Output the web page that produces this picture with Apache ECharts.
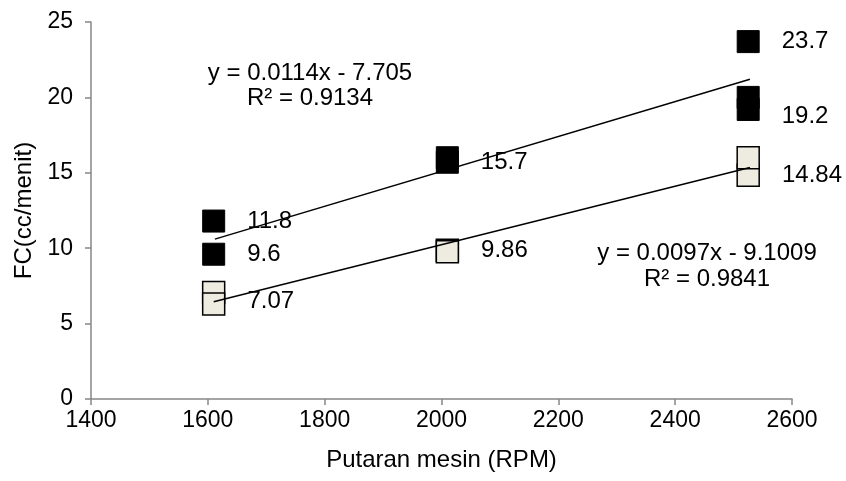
<!DOCTYPE html>
<html>
<head>
<meta charset="utf-8">
<script src="https://cdn.jsdelivr.net/npm/echarts@6/dist/echarts.min.js"></script>
<style>
html,body{margin:0;padding:0;background:#fff;}
#chart{width:846px;height:481px;}
</style>
</head>
<body>
<div id="chart"></div>
<script>
// ---- data ----
const xTicks = [1400, 1600, 1800, 2000, 2200, 2400, 2600];
const yTicks = [0, 5, 10, 15, 20, 25];

const rpmDark = [1610, 1610, 2010, 2010, 2525, 2525, 2525];
const fcDark = [11.8, 9.6, 15.7, 16.0, 23.7, 20.0, 19.2];
const labelDark = ['11.8', '9.6', '15.7', '', '23.7', '', '19.2'];

const rpmLight = [1610, 1610, 2010, 2010, 2525, 2525];
const fcLight = [7.07, 6.3, 9.86, 9.76, 14.84, 16.0];
const labelLight = ['7.07', '', '9.86', '', '14.84', ''];

const trendDarkX = [1612, 2528];
const trendDarkY = [10.6, 21.2];
const trendLightX = [1610, 2528];
const trendLightY = [6.45, 15.35];

const eqDark = ['y = 0.0114x - 7.705', 'R² = 0.9134'];
const eqLight = ['y = 0.0097x - 9.1009', 'R² = 0.9841'];

const xTitle = 'Putaran mesin (RPM)';
const yTitle = 'FC(cc/menit)';

// ---- build ----
const FONT = 'Liberation Sans, Arial, sans-serif';
const FS = 24;
const labelNudge = { '19.2': 7, '7.07': 9 };

function pts(xs, ys, labels) {
  return xs.map((x, i) => {
    const item = { value: [x, ys[i]] };
    const t = labels ? labels[i] : '';
    item.label = t ? {
      show: true, formatter: t,
      offset: [0, labelNudge[t] || 0]
    } : { show: false };
    return item;
  });
}

const chart = echarts.init(document.getElementById('chart'), null, { renderer: 'canvas' });

const axisLineStyle = { color: '#868686', width: 1.5 };

chart.setOption({
  animation: false,
  backgroundColor: '#ffffff',
  grid: { left: 91, right: 54, top: 22, bottom: 82, containLabel: false },
  xAxis: {
    type: 'value', min: xTicks[0], max: xTicks[xTicks.length - 1], interval: 200,
    name: xTitle, nameLocation: 'middle', nameGap: 49,
    nameTextStyle: { fontFamily: FONT, fontSize: FS, color: '#000' },
    axisLine: { show: true, onZero: false, lineStyle: axisLineStyle },
    axisTick: { show: true, length: 6, inside: false, lineStyle: axisLineStyle },
    axisLabel: { fontFamily: FONT, fontSize: 23, color: '#000', margin: 10, formatter: v => String(v) },
    splitLine: { show: false }
  },
  yAxis: {
    type: 'value', min: yTicks[0], max: yTicks[yTicks.length - 1], interval: 5,
    name: yTitle, nameLocation: 'middle', nameGap: 55, nameRotate: 90,
    nameTextStyle: { fontFamily: FONT, fontSize: FS, color: '#000' },
    axisLine: { show: true, lineStyle: axisLineStyle },
    axisTick: { show: true, length: 6, inside: false, lineStyle: axisLineStyle },
    axisLabel: { fontFamily: FONT, fontSize: 23, color: '#000', margin: 18, formatter: v => String(v) },
    splitLine: { show: false }
  },
  graphic: [
    { type: 'text', x: 310, y: 73, z: 100, style: { text: eqDark[0], font: FS + 'px ' + FONT, fill: '#000', align: 'center', verticalAlign: 'middle' } },
    { type: 'text', x: 310, y: 98, z: 100, style: { text: eqDark[1], font: FS + 'px ' + FONT, fill: '#000', align: 'center', verticalAlign: 'middle' } },
    { type: 'text', x: 707, y: 253, z: 100, style: { text: eqLight[0], font: FS + 'px ' + FONT, fill: '#000', align: 'center', verticalAlign: 'middle' } },
    { type: 'text', x: 707, y: 279, z: 100, style: { text: eqLight[1], font: FS + 'px ' + FONT, fill: '#000', align: 'center', verticalAlign: 'middle' } }
  ],
  series: [
    {
      type: 'scatter', name: 'dark', symbol: 'rect', symbolSize: 22, z: 2,
      itemStyle: { color: '#000', borderColor: '#000', borderWidth: 1, opacity: 1 },
      label: { position: 'right', distance: 22, fontFamily: FONT, fontSize: FS, color: '#000', opacity: 1 },
      emphasis: { disabled: true },
      data: pts(rpmDark, fcDark, labelDark)
    },
    {
      type: 'scatter', name: 'light', symbol: 'rect', symbolSize: 22, z: 2,
      itemStyle: { color: '#EEECE1', borderColor: '#000', borderWidth: 1.5, opacity: 1 },
      label: { position: 'right', distance: 22, fontFamily: FONT, fontSize: FS, color: '#000', opacity: 1 },
      emphasis: { disabled: true },
      data: pts(rpmLight, fcLight, labelLight)
    },
    {
      type: 'line', name: 'trendDark', symbol: 'none', z: 5, silent: true,
      lineStyle: { color: '#000', width: 1.5 },
      data: trendDarkX.map((x, i) => [x, trendDarkY[i]])
    },
    {
      type: 'line', name: 'trendLight', symbol: 'none', z: 5, silent: true,
      lineStyle: { color: '#000', width: 1.5 },
      data: trendLightX.map((x, i) => [x, trendLightY[i]])
    }
  ]
});
</script>
</body>
</html>
